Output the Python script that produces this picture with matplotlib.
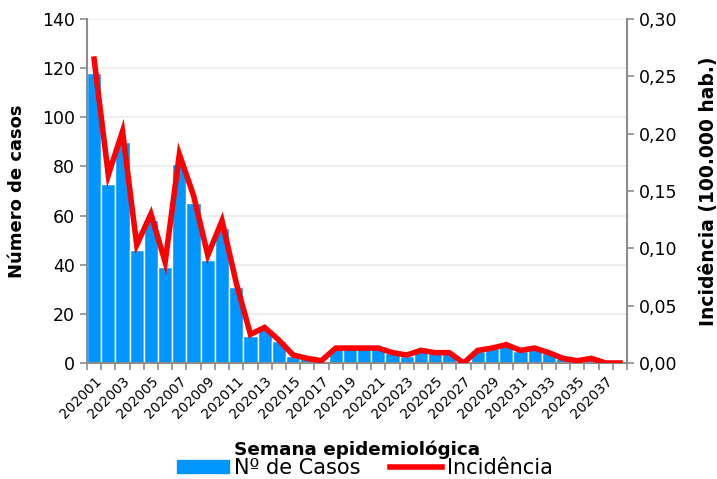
import matplotlib
matplotlib.use("Agg")
import matplotlib.pyplot as plt
from matplotlib.lines import Line2D
from matplotlib.patches import Patch
import numpy as np

plt.rcParams['font.family'] = ['DejaVu Sans']

semanas = ["2020%02d" % i for i in range(1, 39)]
casos = [118, 73, 90, 46, 58, 39, 81, 65, 42, 55, 31, 11, 14, 9, 3, 2, 1, 6, 6, 6,
         6, 4, 3, 5, 4, 4, 0, 5, 6, 7, 5, 6, 4, 2, 1, 2, 0, 0]
incidencia = [0.265, 0.164, 0.202, 0.103, 0.130, 0.088, 0.182, 0.146, 0.094, 0.124,
              0.070, 0.025, 0.031, 0.020, 0.007, 0.004, 0.002, 0.013, 0.013, 0.013,
              0.013, 0.009, 0.007, 0.011, 0.009, 0.009, 0.000, 0.011, 0.013, 0.016,
              0.011, 0.013, 0.009, 0.004, 0.002, 0.004, 0.000, 0.000]

azul = '#0096ff'
cinza = '#8c8c8c'

fig = plt.figure(figsize=(7.17, 4.79), dpi=100)
ax = fig.add_axes([87/717, 1-363/479, 540/717, 344/479])
x = np.arange(len(semanas))

ax.bar(x, casos, width=1.0, color=azul, edgecolor='white', linewidth=1.0, zorder=2)
ax.set_xlim(-0.5, len(semanas) - 0.5)
ax.set_ylim(0, 140)
ax.set_yticks(range(0, 141, 20))
ax.yaxis.grid(True, color='#ebebeb', linewidth=1.2, zorder=0)
ax.set_axisbelow(True)

# ticks entre categorias, rotulos em semanas impares
ax.set_xticks(np.arange(-0.5, len(semanas), 1.0), minor=True)
ax.set_xticks(x[::2])
ax.set_xticklabels(semanas[::2], rotation=45, ha='right', rotation_mode='anchor', fontsize=10)
ax.tick_params(axis='x', which='major', length=0, pad=8)
ax.tick_params(axis='x', which='minor', length=5, color=cinza, width=1.2)
ax.tick_params(axis='y', length=5, color=cinza, width=1.2, labelsize=12.5)

for s in ['top', 'right']:
    ax.spines[s].set_visible(False)
for s in ['left', 'bottom']:
    ax.spines[s].set_color(cinza)
    ax.spines[s].set_linewidth(1.5)
ax.set_ylabel('Número de casos', fontsize=13, fontweight='bold')
ax.yaxis.set_label_coords(-61/540, 0.5)

ax2 = ax.twinx()
ax2.plot(x, incidencia, color='#ff0000', linewidth=4, zorder=3, solid_joinstyle='miter')
ax2.set_ylim(0, 0.30)
ax2.set_yticks(np.arange(0, 0.301, 0.05))
ax2.set_yticklabels([('%.2f' % v).replace('.', ',') for v in np.arange(0, 0.301, 0.05)])
ax2.tick_params(axis='y', length=5, color=cinza, width=1.2, labelsize=12.5)
for s in ['top', 'left', 'bottom']:
    ax2.spines[s].set_visible(False)
ax2.spines['right'].set_color(cinza)
ax2.spines['right'].set_linewidth(1.5)
ax2.set_ylabel('Incidência (100.000 hab.)', fontsize=13.5, fontweight='bold', rotation=90)
ax2.yaxis.set_label_coords(1 + 72/540, 0.5)

fig.text(357/717, 1-450/479, 'Semana epidemiológica', ha='center', va='center',
         fontsize=13.2, fontweight='bold')

handles = [Patch(color=azul, label='Nº de Casos'),
           Line2D([0], [0], color='#ff0000', linewidth=4, label='Incidência')]
fig.legend(handles=handles, loc='center', bbox_to_anchor=(365/717, 1-468/479), ncol=2,
           frameon=False, fontsize=15, handlelength=2.5, handleheight=0.6,
           columnspacing=1.4, handletextpad=0.25, borderpad=0)

fig.savefig('out.png', dpi=100)
